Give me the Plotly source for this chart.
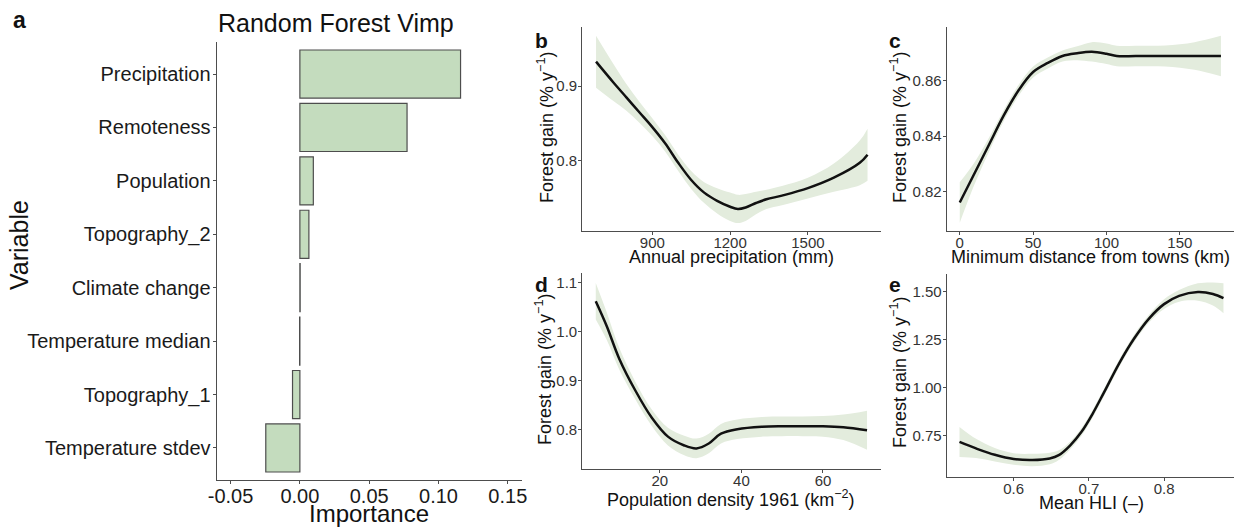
import plotly.graph_objects as go

# ---------------- data ----------------
variables = ["Precipitation", "Remoteness", "Population", "Topography_2",
             "Climate change", "Temperature median", "Topography_1", "Temperature stdev"]
importance = [0.1159, 0.0773, 0.0097, 0.0065, 0.0002, -0.0002, -0.0053, -0.0246]
imp_ticks = [-0.05, 0.0, 0.05, 0.10, 0.15]
imp_ticktext = ["-0.05", "0.00", "0.05", "0.10", "0.15"]

precip_x = [683, 750, 800, 850, 900, 950, 1000, 1050, 1100, 1150, 1200, 1230, 1260,
            1300, 1340, 1400, 1500, 1600, 1700, 1730]
precip_y = [0.933, 0.905, 0.885, 0.865, 0.845, 0.823, 0.797, 0.774, 0.757, 0.746, 0.738,
            0.735, 0.737, 0.743, 0.748, 0.753, 0.763, 0.777, 0.797, 0.808]
precip_se = [0.035, 0.025, 0.018, 0.014, 0.012, 0.011, 0.011, 0.012, 0.014, 0.017, 0.019,
             0.019, 0.018, 0.015, 0.013, 0.013, 0.014, 0.019, 0.030, 0.035]

dist_x = [0, 10, 20, 30, 40, 50, 60, 70, 80, 90, 100, 107, 120, 140, 160, 178]
dist_y = [0.816, 0.8265, 0.837, 0.8475, 0.8565, 0.8632, 0.8665, 0.869, 0.870, 0.8705,
          0.8698, 0.869, 0.869, 0.869, 0.869, 0.869]
dist_se = [0.0073, 0.004, 0.0025, 0.002, 0.002, 0.002, 0.002, 0.002, 0.0025, 0.0035,
           0.0037, 0.0037, 0.0037, 0.0038, 0.005, 0.0073]

pop_x = [4.3, 7, 10, 14, 18, 22, 26, 29, 32, 35, 39, 45, 50, 55, 60, 65, 70.8]
pop_y = [1.062, 1.011, 0.946, 0.880, 0.825, 0.786, 0.768, 0.762, 0.772, 0.792, 0.801,
         0.806, 0.807, 0.807, 0.807, 0.805, 0.799]
pop_se = [0.037, 0.028, 0.022, 0.018, 0.017, 0.018, 0.020, 0.020, 0.020, 0.020, 0.020,
          0.020, 0.020, 0.020, 0.021, 0.026, 0.040]

hli_x = [0.528, 0.55, 0.575, 0.6, 0.625, 0.648, 0.66, 0.675, 0.69, 0.705, 0.72, 0.74,
         0.76, 0.78, 0.80, 0.82, 0.845, 0.865, 0.879]
hli_y = [0.719, 0.685, 0.652, 0.630, 0.625, 0.633, 0.650, 0.700, 0.770, 0.865, 0.975,
         1.125, 1.255, 1.360, 1.435, 1.478, 1.498, 1.488, 1.466]
hli_se = [0.078, 0.05, 0.035, 0.03, 0.032, 0.03, 0.025, 0.02, 0.02, 0.02, 0.02, 0.02,
          0.02, 0.02, 0.025, 0.03, 0.045, 0.06, 0.078]

# ---------------- layout helpers ----------------
W, H = 1234, 527
FONT = "Liberation Sans, Arial, sans-serif"
AXC = "#4d4d4d"
BAND = "#e3ecdd"


def xd(a, b):
    return [a / W, b / W]


def yd(top, bottom):
    return [1 - bottom / H, 1 - top / H]


fig = go.Figure()

# panel a bars
fig.add_trace(go.Bar(
    x=importance, y=variables, orientation="h", width=0.9,
    marker=dict(color="#c4dcbe", line=dict(color=AXC, width=1.2)),
    xaxis="x", yaxis="y", hoverinfo="x+y"))

# smooth panels
panels = [
    (precip_x, precip_y, precip_se, "x2", "y2"),
    (dist_x, dist_y, dist_se, "x3", "y3"),
    (pop_x, pop_y, pop_se, "x4", "y4"),
    (hli_x, hli_y, hli_se, "x5", "y5"),
]
for xs, ys, se, xa, ya in panels:
    up = [y + s for y, s in zip(ys, se)]
    lo = [y - s for y, s in zip(ys, se)]
    fig.add_trace(go.Scatter(x=xs, y=up, mode="lines", line=dict(width=0, shape="spline"),
                             xaxis=xa, yaxis=ya, hoverinfo="skip"))
    fig.add_trace(go.Scatter(x=xs, y=lo, mode="lines", line=dict(width=0, shape="spline"),
                             fill="tonexty", fillcolor=BAND,
                             xaxis=xa, yaxis=ya, hoverinfo="skip"))
    fig.add_trace(go.Scatter(x=xs, y=ys, mode="lines",
                             line=dict(color="#111111", width=2.5, shape="spline"),
                             xaxis=xa, yaxis=ya))

common = dict(showline=True, linecolor=AXC, linewidth=1.2, ticks="outside", ticklen=3,
              tickcolor=AXC, showgrid=False, zeroline=False, automargin=False)
xcommon = dict(common, ticklabelstandoff=-5)
ycommon = dict(common, ticklabelstandoff=-2)
small_tick = dict(size=15, color="#333333", family=FONT)
big_tick = dict(size=20, color="#1a1a1a", family=FONT)

fig.update_layout(
    template="none",
    width=W, height=H, margin=dict(l=0, r=0, t=0, b=0, pad=0, autoexpand=False),
    paper_bgcolor="white", plot_bgcolor="white", showlegend=False,
    font=dict(family=FONT, color="#111111"),
    xaxis=dict(domain=xd(216.7, 521.7), anchor="y", range=[-0.06, 0.16],
               tickvals=imp_ticks, ticktext=imp_ticktext, tickfont=big_tick, **xcommon),
    yaxis=dict(domain=yd(42, 480), anchor="x", type="category", categoryorder="array",
               categoryarray=variables, range=[7.6, -0.6], tickfont=big_tick, **ycommon),
    xaxis2=dict(domain=xd(582.3, 880.5), anchor="y2", range=[630, 1780],
                tickvals=[900, 1200, 1500], tickfont=small_tick, **xcommon),
    yaxis2=dict(domain=yd(26.7, 231), anchor="x2", range=[0.7054, 0.980],
                tickvals=[0.8, 0.9], ticktext=["0.8", "0.9"], tickfont=small_tick, **ycommon),
    xaxis3=dict(domain=xd(946.7, 1234), anchor="y3", range=[-8.9, 186.9],
                tickvals=[0, 50, 100, 150], tickfont=small_tick, **xcommon),
    yaxis3=dict(domain=yd(26.7, 231), anchor="x3", range=[0.8057, 0.8796],
                tickvals=[0.82, 0.84, 0.86], ticktext=["0.82", "0.84", "0.86"],
                tickfont=small_tick, **ycommon),
    xaxis4=dict(domain=xd(582.3, 880.5), anchor="y4", range=[1.0, 74.1],
                tickvals=[20, 40, 60], tickfont=small_tick, **xcommon),
    yaxis4=dict(domain=yd(273.3, 469), anchor="x4", range=[0.720, 1.119],
                tickvals=[0.8, 0.9, 1.0, 1.1], ticktext=["0.8", "0.9", "1.0", "1.1"],
                tickfont=small_tick, **ycommon),
    xaxis5=dict(domain=xd(946.7, 1234), anchor="y5", range=[0.511, 0.893],
                tickvals=[0.6, 0.7, 0.8], ticktext=["0.6", "0.7", "0.8"],
                tickfont=small_tick, **xcommon),
    yaxis5=dict(domain=yd(274, 477.3), anchor="x5", range=[0.535, 1.5916],
                tickvals=[0.75, 1.0, 1.25, 1.5], ticktext=["0.75", "1.00", "1.25", "1.50"],
                tickfont=small_tick, **ycommon),
)


def ann(text, px, py, size, angle=0, bold=False, color="#111111"):
    if bold:
        text = "<b>" + text + "</b>"
    fig.add_annotation(text=text, x=px / W, y=1 - py / H, xref="paper", yref="paper",
                       xanchor="center", yanchor="middle", showarrow=False,
                       textangle=angle, font=dict(size=size, family=FONT, color=color))


ytitle = "Forest gain (% y<sup>−1</sup>)"
# panel a texts
ann("Random Forest Vimp", 335.7, 23.5, 25)
ann("Importance", 369, 513, 24)
ann("Variable", 19, 245, 25, angle=-90)
ann("a", 19, 20, 23, bold=True)
# panel b
ann("b", 541.5, 40, 21, bold=True)
ann(ytitle, 545, 128, 18, angle=-90)
ann("Annual precipitation (mm)", 731, 257, 18)
# panel c
ann("c", 895.5, 40, 21, bold=True)
ann(ytitle, 898, 128, 18, angle=-90)
ann("Minimum distance from towns (km)", 1090, 257, 18)
# panel d
ann("d", 541, 284, 21, bold=True)
ann(ytitle, 544, 370, 18, angle=-90)
ann("Population density 1961 (km<sup>−2</sup>)", 731, 498, 18)
# panel e
ann("e", 895, 284, 21, bold=True)
ann(ytitle, 898, 373, 18, angle=-90)
ann("Mean HLI (–)", 1091, 503, 18)

fig.write_html("out.html", config={"displayModeBar": False},
               post_script="document.body.style.margin='0px';"
                           "document.body.style.overflow='hidden';")
